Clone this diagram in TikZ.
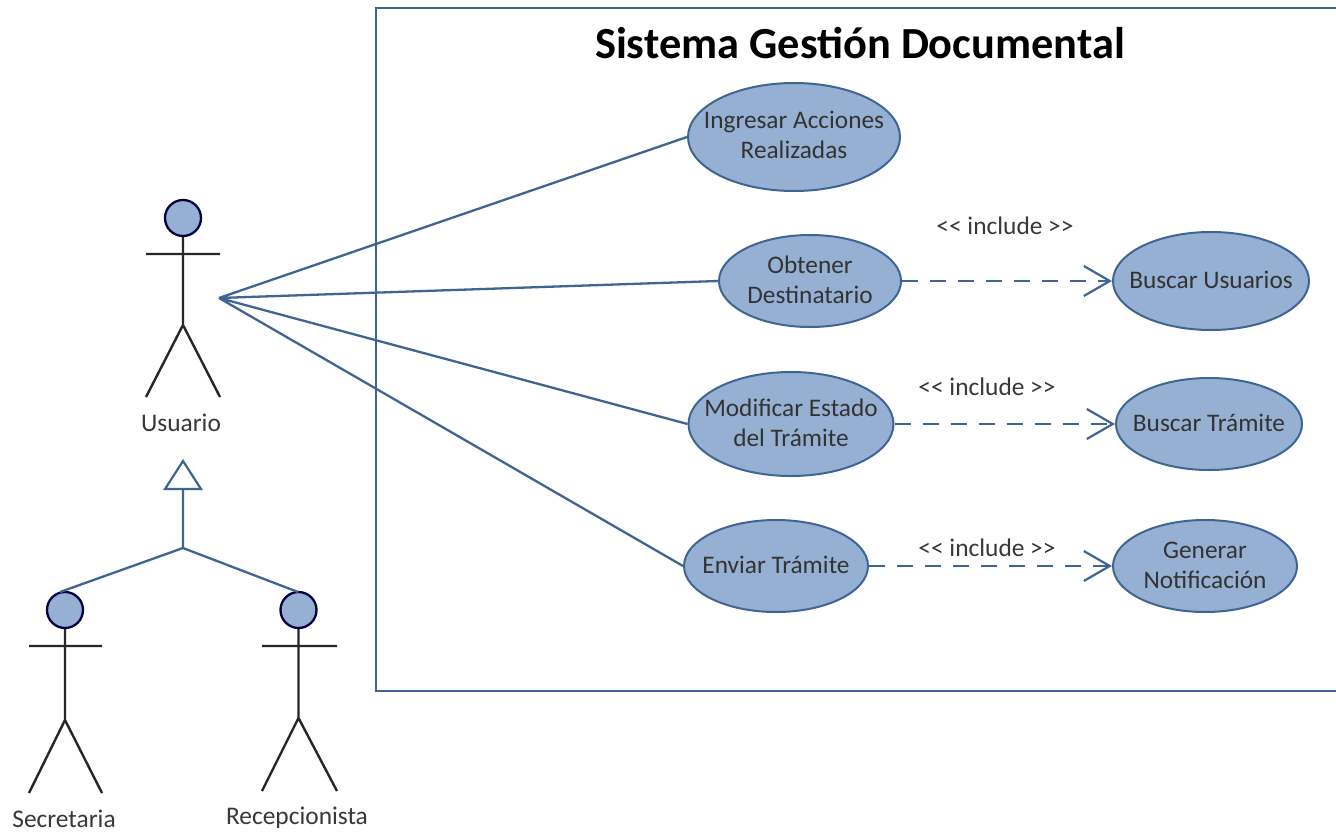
\documentclass[tikz,border=0pt]{standalone}
\usepackage{fontspec}
\setmainfont{Carlito}
\usetikzlibrary{arrows.meta,shapes.geometric}
\definecolor{fillb}{HTML}{95B0D3}
\definecolor{lineb}{HTML}{3F6592}
\tikzset{x=1pt,y=-1pt,
 usecase/.style={ellipse,draw=lineb,line width=2pt,fill=fillb,inner sep=0pt},
 uctext/.style={align=center,font=\fontsize{25.3}{30}\selectfont,text=black!80,inner sep=0pt,yshift=1pt},
 assoc/.style={draw=lineb,line width=2.3pt},
 incl/.style={draw=lineb,line width=2.8pt,dash pattern=on 16pt off 12pt,-{Straight Barb[length=26pt,width=30pt,line width=2.2pt]}},
 lbl/.style={font=\fontsize{25.4}{28}\selectfont,text=black!78,inner sep=0pt},
 head/.style={circle,draw=black!75!blue,line width=2.3pt,fill=fillb,minimum size=36pt,inner sep=0pt},
 stick/.style={draw=black!85,line width=2.4pt}}
\begin{document}
\begin{tikzpicture}
\useasboundingbox (0,0) rectangle (1336,833);
\fill[white] (0,0) rectangle (1336,833);
\coordinate (sysTL) at (376,8);
\coordinate (sysTR) at (1336,8);
\coordinate (sysBL) at (376,691);
\coordinate (sysBR) at (1336,691);
\draw[draw=lineb,line width=2.4pt] (sysTR) -- (sysTL) -- (sysBL) -- (sysBR);
\node[font=\bfseries\fontsize{44.4}{48}\selectfont,inner sep=0pt] (title) at (860,43.5) {Sistema Gestión Documental};
% use cases
\node[usecase,minimum width=212pt,minimum height=108pt,label={[uctext,yshift=1pt]center:Ingresar Acciones\\Realizadas}] (u1) at (794,137) {};
\node[usecase,minimum width=182pt,minimum height=92pt,label={[uctext]center:Obtener\\Destinatario}] (u2) at (810,281) {};
\node[usecase,minimum width=205pt,minimum height=104pt,label={[uctext]center:Modificar Estado\\del Trámite}] (u3) at (791,424) {};
\node[usecase,minimum width=184pt,minimum height=92pt,label={[uctext]center:Enviar Trámite}] (u4) at (776,566) {};
\node[usecase,minimum width=196pt,minimum height=98pt,label={[uctext]center:Buscar Usuarios}] (b1) at (1211,281) {};
\node[usecase,minimum width=186pt,minimum height=92pt,label={[uctext]center:Buscar Trámite}] (b2) at (1209,424) {};
\node[usecase,minimum width=184pt,minimum height=92pt,label={[uctext]center:Generar\\Notificación}] (b3) at (1205,566) {};
% Usuario
\coordinate (h0c) at (183,218);
\coordinate (n0) at (219,298);
\coordinate (a0l) at (146,254); \coordinate (a0r) at (220,254);
\coordinate (m0) at (183,325); \coordinate (f0l) at (146,397); \coordinate (f0r) at (220,397);
\draw[stick] (h0c) -- (m0) (a0l) -- (a0r) (f0l) -- (m0) -- (f0r);
\node[head] (h0) at (h0c) {};
\node[lbl] (t0) at (181,423) {Usuario};
% Secretaria
\coordinate (h1c) at (65,610);
\coordinate (a1l) at (29,646); \coordinate (a1r) at (102,646);
\coordinate (m1) at (65,720); \coordinate (f1l) at (29,793); \coordinate (f1r) at (102,793);
\draw[stick] (h1c) -- (m1) (a1l) -- (a1r) (f1l) -- (m1) -- (f1r);
\node[head] (h1) at (h1c) {};
\node[lbl] (t1) at (64,819) {Secretaria};
% Recepcionista
\coordinate (h2c) at (298.5,610);
\coordinate (a2l) at (262,646); \coordinate (a2r) at (337,646);
\coordinate (m2) at (298.5,718); \coordinate (f2l) at (262,791); \coordinate (f2r) at (337,791);
\draw[stick] (h2c) -- (m2) (a2l) -- (a2r) (f2l) -- (m2) -- (f2r);
\node[head] (h2) at (h2c) {};
\node[lbl] (t2) at (297,818) {Recepcionista};
% generalization
\coordinate (j) at (183,548);
\coordinate (ja) at (60,592);
\coordinate (jb) at (298,592);
\coordinate (triT) at (183,461);
\coordinate (triL) at (165,489);
\coordinate (triR) at (201,489);
\coordinate (triB) at (183,489);
\draw[lineb,line width=2.2pt,fill=white] (triT) -- (triL) -- (triR) -- cycle;
\draw[assoc] (triB) -- (j) (ja) -- (j) -- (jb);
% associations
\draw[assoc] (n0) -- (u1.west) (n0) -- (u2.west) (n0) -- (u3.west) (n0) -- (u4.west);
% includes
\draw[incl] (u2) -- (b1);
\draw[incl] (u3) -- (b2);
\draw[incl] (u4) -- (b3);
\node[lbl] (i1) at (1005,226) {<{}< include >{}>};
\node[lbl] (i2) at (987,387) {<{}< include >{}>};
\node[lbl] (i3) at (987,548) {<{}< include >{}>};
\end{tikzpicture}
\end{document}
